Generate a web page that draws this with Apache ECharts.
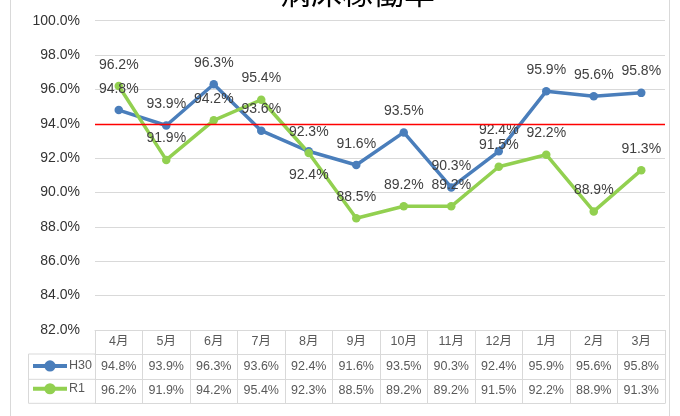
<!DOCTYPE html>
<html>
<head>
<meta charset="utf-8">
<script src="https://cdn.jsdelivr.net/npm/echarts@6/dist/echarts.min.js"></script>
<style>
html,body{margin:0;padding:0;background:#fff;}
#main{width:680px;height:416px;}
</style>
</head>
<body>
<div id="main"></div>
<script>
const title = '病床稼働率';
const months = ['4月','5月','6月','7月','8月','9月','10月','11月','12月','1月','2月','3月'];
const seriesNames = ['H30','R1'];
const h30 = [94.8,93.9,96.3,93.6,92.4,91.6,93.5,90.3,92.4,95.9,95.6,95.8];
const r1 = [96.2,91.9,94.2,95.4,92.3,88.5,89.2,89.2,91.5,92.2,88.9,91.3];
const targetRate = 94.0;
const yMin = 82, yMax = 100, yStep = 2;

const FONT = '"Liberation Sans", "Noto Sans CJK JP", sans-serif';
const BLUE = '#4a7ebb';
const GREEN = '#92d050';
const GRIDC = '#d9d9d9';
const pct = v => Number(v).toFixed(1) + '%';

const chart = echarts.init(document.getElementById('main'), null, {renderer:'canvas'});

const gridTop = 20.7, gridBottomY = 330, gridLeft = 95, gridRight = 665;
const rowH30 = 354, rowR1 = 379.3, rowEnd = 403.3;

function rowAxis(offset, labels, margin){
  return {
    type:'category', data: months, gridIndex:0, position:'bottom', offset: offset,
    axisLine:{show:true, lineStyle:{color:GRIDC, width:1}},
    axisTick:{show:false},
    axisLabel:{show: !!labels, interval:0, margin: margin || 0, fontSize:12.5, fontFamily:FONT, color:'#595959',
      formatter:(v, i) => labels ? pct(labels[i]) : ''},
    splitLine:{show:false}
  };
}

const labelCommon = {show:true, position:'top', distance:10, fontSize:14, fontFamily:FONT, color:'#404040',
  formatter: p => pct(p.value)};

const option = {
  animation:false,
  backgroundColor:'#fff',
  title:{
    text:title, left:280, top:-23, padding:0,
    textStyle:{fontSize:31, fontWeight:'normal', color:'#000', fontFamily:'"Noto Sans CJK JP", sans-serif'}
  },
  legend:{
    orient:'vertical', left:31, top:359.7, padding:0, itemGap:10.3,
    itemWidth:34, itemHeight:14,
    lineStyle:{width:4},
    textStyle:{fontSize:12.5, fontFamily:FONT, color:'#595959', padding:[0,0,0,-3]},
    data: seriesNames
  },
  grid:{left:gridLeft, right:680-gridRight, top:gridTop, bottom:416-gridBottomY, containLabel:false},
  xAxis:[
    {
      type:'category', data: months, gridIndex:0, position:'bottom', boundaryGap:true,
      axisLine:{show:true, lineStyle:{color:GRIDC, width:1}},
      axisTick:{show:true, interval:0, length: rowEnd - gridBottomY, lineStyle:{color:GRIDC, width:1}},
      axisLabel:{interval:0, margin:5.5, fontSize:12.5, fontFamily:FONT, color:'#595959'},
      splitLine:{show:false}
    },
    rowAxis(rowH30 - gridBottomY, h30, 6.2),
    rowAxis(rowR1 - gridBottomY, r1, 5.4),
    rowAxis(rowEnd - gridBottomY, null, 0)
  ],
  yAxis:{
    type:'value', min:yMin, max:yMax, interval:yStep,
    axisLine:{show:false}, axisTick:{show:false},
    axisLabel:{margin:15, fontSize:14, fontFamily:FONT, color:'#333', formatter:v => pct(v)},
    splitLine:{show:true, lineStyle:{color:GRIDC, width:1}}
  },
  series:[
    {
      name:seriesNames[0], type:'line', xAxisIndex:0,
      data: h30.map((v,i) => i === 4 ? {value:v, label:{position:'bottom', distance:13}} : v),
      symbol:'circle', symbolSize:8.5,
      lineStyle:{color:BLUE, width:3.5},
      itemStyle:{color:BLUE},
      label: labelCommon,
      markLine:{
        silent:true, symbol:['none','none'],
        label:{show:false},
        lineStyle:{color:'#ff0000', width:1.3, type:'solid'},
        data:[{yAxis:targetRate}]
      }
    },
    {
      name:seriesNames[1], type:'line', xAxisIndex:0,
      data: r1,
      symbol:'circle', symbolSize:8.5,
      lineStyle:{color:GREEN, width:3.5},
      itemStyle:{color:GREEN},
      label: labelCommon
    }
  ],
  graphic:[
    {type:'line', shape:{x1:10.5, y1:-5, x2:10.5, y2:420}, style:{stroke:GRIDC, lineWidth:1}, silent:true},
    {type:'line', shape:{x1:669.5, y1:-5, x2:669.5, y2:420}, style:{stroke:GRIDC, lineWidth:1}, silent:true},
    {type:'line', shape:{x1:28.5, y1:rowH30, x2:gridLeft, y2:rowH30}, style:{stroke:GRIDC, lineWidth:1}, silent:true},
    {type:'line', shape:{x1:28.5, y1:rowR1, x2:gridLeft, y2:rowR1}, style:{stroke:GRIDC, lineWidth:1}, silent:true},
    {type:'line', shape:{x1:28.5, y1:rowEnd, x2:gridLeft, y2:rowEnd}, style:{stroke:GRIDC, lineWidth:1}, silent:true},
    {type:'line', shape:{x1:28.5, y1:rowH30, x2:28.5, y2:rowEnd}, style:{stroke:GRIDC, lineWidth:1}, silent:true}
  ]
};
chart.setOption(option);
</script>
</body>
</html>
